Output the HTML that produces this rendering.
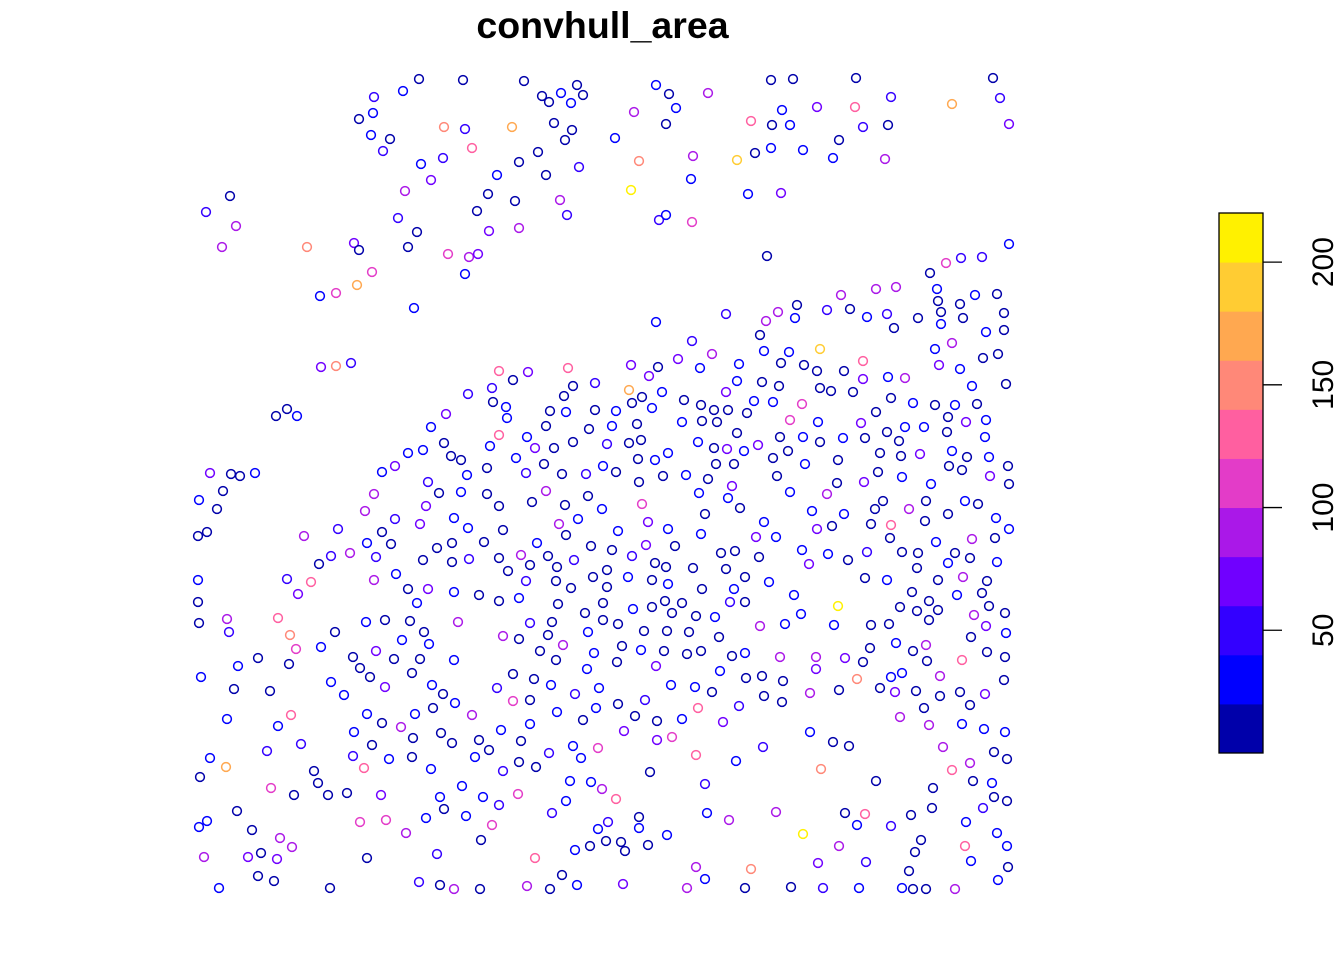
<!DOCTYPE html>
<html><head><meta charset="utf-8"><title>convhull_area</title>
<style>html,body{margin:0;padding:0;background:#fff}svg{display:block}</style></head>
<body>
<svg id="chart" width="1344" height="960" viewBox="0 0 1344 960" xmlns="http://www.w3.org/2000/svg">
<rect width="1344" height="960" fill="#fff"/>
<text x="602.5" y="38" text-anchor="middle" font-family="Liberation Sans, sans-serif" font-weight="bold" font-size="37.5">convhull_area</text>
<g id="points"></g>
<g id="legend"></g>
</svg>
<script>
const ptX = [419,463,524,403,374,373,359,371,390,383,444,465,512,472,542,549,561,577,583,571,554,572,565,538,519,546,579,421,443,431,497,405,488,515,477,560,567,398,417,489,519,408,230,206,236,222,307,354,359,448,469,478,372,357,336,320,465,414,
656,669,708,634,676,666,615,639,693,737,691,631,659,666,692,748,781,771,793,856,751,782,772,790,817,855,891,863,888,839,755,771,803,833,885,952,993,1000,1009,767,1009,946,961,982,930,937,938,941,941,960,963,975,997,1004,986,1004,841,876,896,797,778,766,795,827,850,867,887,894,918,760,726,656,692,
321,336,351,276,287,297,210,231,240,255,223,199,217,198,207,304,338,198,198,287,298,311,319,331,350,367,376,382,391,374,396,395,365,374,382,395,408,423,431,446,444,451,461,467,428,439,461,426,420,454,468,408,428,417,423,437,452,452,469,454,479,499,519,484,503,499,508,521,530,526,499,513,528,568,492,468,493,506,507,499,490,487,487,499,516,527,535,526,544,546,550,566,564,573,595,595,589,573,554,562,586,603,607,546,532,565,588,559,578,602,566,537,548,557,574,591,556,571,593,558,585,603,
631,649,658,678,712,700,629,642,632,662,652,616,612,637,629,641,638,655,668,616,639,663,686,684,701,714,728,682,702,717,726,737,739,764,789,781,804,817,820,844,863,863,762,779,820,831,853,754,773,747,802,790,818,861,876,888,905,891,913,935,952,939,960,983,998,972,1006,935,955,977,948,966,986,947,985,905,924,887,899,865,843,820,803,780,737,698,714,727,744,758,788,773,716,734,805,838,880,901,920,952,967,989,949,962,1008,1009,990,931,902,878,864,837,827,790,777,732,728,740,708,699,705,642,648,668,618,646,675,612,632,655,666,607,628,652,668,607,633,652,665,672,682,693,701,721,735,726,702,734,745,730,745,696,715,764,756,776,759,769,794,801,812,844,817,832,802,828,848,809,867,838,865,887,883,875,871,891,890,909,926,925,948,965,978,996,1009,995,972,936,902,918,955,970,948,997,917,938,963,987,912,929,957,982,989,900,917,938,1005,974,
199,227,229,278,290,296,258,238,289,201,234,270,227,278,291,301,267,210,226,200,271,294,237,207,199,252,280,292,204,248,261,277,258,274,219,335,321,331,344,366,385,410,424,402,429,376,353,360,370,394,420,412,454,458,385,432,443,455,433,415,472,367,382,401,354,372,413,441,452,353,389,412,364,431,314,318,328,347,381,440,444,426,466,462,360,386,406,367,330,419,440,454,480,527,550,562,577,535,481,437,492,499,483,518,552,566,570,591,602,598,608,590,606,575,503,519,536,475,479,489,501,521,530,549,573,581,598,557,583,596,513,530,497,551,575,599,513,534,587,594,540,556,563,503,519,548,530,552,588,603,
618,644,667,689,719,622,641,664,687,701,617,656,732,745,720,760,785,834,871,889,929,986,1006,971,896,913,926,870,780,816,816,845,863,927,962,987,1005,746,762,783,857,891,902,940,1004,671,695,712,764,782,810,839,880,895,916,940,960,985,970,924,618,645,698,739,635,657,682,723,900,929,962,984,1005,624,657,672,810,833,849,763,696,736,650,821,943,970,952,994,1007,973,992,933,876,705,616,994,1007,932,983,966,911,891,865,845,857,776,729,707,639,639,667,621,625,648,803,839,921,915,965,997,1007,971,1008,998,909,866,818,751,696,705,623,687,745,791,823,859,902,913,926,955];
const ptY = [79,80,81,91,97,113,119,135,139,151,127,129,127,148,96,102,93,85,95,103,123,130,140,152,162,175,167,164,158,180,175,191,194,201,211,200,215,218,232,231,228,247,196,212,226,247,247,243,250,254,257,254,272,285,293,296,274,308,
85,94,93,112,108,124,138,161,156,160,179,190,220,215,222,194,193,80,79,78,121,110,125,125,107,107,97,127,125,140,153,148,150,158,159,104,78,98,124,256,244,263,258,257,273,289,301,312,324,304,318,295,294,313,332,330,295,289,287,305,312,321,318,310,309,317,314,328,318,335,314,322,341,
367,366,363,416,409,416,473,474,476,473,491,500,509,536,532,536,529,580,602,579,594,582,564,556,553,543,557,532,544,580,574,519,511,494,472,466,453,450,427,414,443,456,460,475,482,493,492,506,524,518,528,589,589,603,560,548,543,562,559,592,595,601,598,542,530,558,571,555,565,581,371,380,372,368,388,394,402,407,418,435,446,468,494,506,458,437,448,473,464,426,411,412,396,386,383,410,429,442,448,474,474,466,444,491,502,505,496,524,519,509,535,543,556,567,560,546,581,588,577,604,613,603,
365,376,367,359,354,368,390,397,403,392,408,411,426,424,443,440,459,460,453,472,482,476,475,400,405,410,410,422,421,422,392,381,364,351,352,363,365,371,349,371,361,379,382,386,388,391,392,401,402,413,404,420,422,423,412,377,378,398,403,349,343,365,369,358,354,386,384,405,405,404,417,422,420,432,437,427,427,432,441,438,438,442,437,437,433,442,448,449,451,445,451,458,464,464,464,460,453,456,454,451,457,457,466,470,466,484,476,484,477,472,482,483,494,492,476,486,498,508,479,493,514,504,522,529,531,545,546,550,556,563,567,570,577,580,584,587,609,607,601,613,603,568,534,553,551,569,589,589,577,602,602,616,617,522,537,537,557,582,595,614,511,514,529,526,550,554,560,564,552,606,578,580,501,509,524,525,538,509,501,521,514,501,504,518,529,538,539,542,552,553,553,558,563,562,568,580,577,581,592,601,595,593,606,607,611,610,613,615,
623,619,632,618,635,649,658,666,664,677,689,691,719,726,715,744,751,758,767,777,788,795,811,821,827,830,838,847,857,857,853,859,876,881,888,632,647,682,695,622,620,621,632,640,644,651,657,668,677,659,659,673,660,622,687,685,694,703,708,714,715,714,723,727,732,745,738,733,743,756,759,757,768,769,771,783,795,793,795,797,809,818,816,786,822,820,833,858,888,882,885,889,889,886,889,875,885,858,840,854,825,805,797,794,813,801,781,782,789,829,822,846,841,850,771,762,767,757,740,750,730,741,724,753,746,758,748,712,720,708,701,700,688,685,694,688,674,679,669,653,651,660,645,636,639,635,623,622,632,620,
624,631,631,632,637,646,650,651,654,651,662,666,656,653,671,626,624,625,625,624,620,626,633,637,643,651,645,648,657,657,669,658,662,661,660,652,657,678,676,681,679,677,673,676,680,685,687,692,696,702,693,690,688,692,691,696,692,694,705,708,704,700,708,706,716,721,719,722,717,725,724,729,732,731,740,737,732,742,746,747,755,761,772,769,747,763,770,752,759,781,783,788,781,784,799,797,801,808,808,822,815,826,814,813,825,812,820,813,817,828,835,842,851,845,834,846,840,852,846,833,846,861,867,880,871,862,863,869,867,879,884,888,888,887,888,888,888,889,889,889];
const ptArea = [12,12,12,30,50,30,12,30,12,50,150,50,170,130,12,12,30,12,12,30,12,12,12,12,12,12,50,30,50,70,30,90,12,12,12,90,50,50,12,70,90,12,12,50,90,90,150,70,12,110,90,70,110,170,110,30,30,30,
30,12,90,90,30,12,30,150,90,190,30,210,50,30,110,30,70,12,12,12,130,30,12,30,70,130,50,50,12,12,12,30,30,30,90,170,12,50,70,12,30,110,50,50,12,30,12,12,30,12,12,30,12,12,30,12,90,90,90,12,90,90,30,50,12,30,50,12,12,12,50,30,50,
70,150,50,12,12,30,70,12,12,30,12,30,12,12,12,90,50,30,12,50,70,130,12,50,90,30,50,12,12,90,30,50,90,90,30,70,30,30,30,70,12,12,12,30,50,12,30,70,70,30,30,12,70,30,12,12,12,12,50,30,12,12,30,12,12,12,12,90,12,50,130,12,70,130,50,50,12,30,30,130,30,12,12,12,30,30,70,50,12,12,12,30,12,12,50,12,12,12,12,12,50,30,50,90,12,12,12,90,30,30,12,30,12,12,50,12,12,12,12,12,12,12,
70,70,12,70,90,30,170,12,12,30,30,30,30,12,12,12,12,30,30,12,12,12,30,12,12,12,12,30,12,12,70,30,30,30,30,12,12,12,190,12,130,70,12,12,12,12,12,30,30,12,110,110,30,70,12,30,90,12,30,30,90,70,30,12,12,30,12,12,30,12,12,70,30,12,30,30,30,12,12,12,30,12,30,12,12,30,12,70,30,70,12,12,12,12,30,12,12,12,70,30,12,30,12,12,12,12,70,30,30,12,70,12,90,30,12,70,30,12,12,30,12,110,70,30,30,70,12,12,50,12,12,12,30,12,30,12,30,12,12,12,12,12,30,12,12,12,12,30,12,50,12,12,30,30,70,30,12,30,30,30,30,30,70,12,30,30,12,70,50,210,12,30,12,12,12,130,12,90,12,12,12,30,12,30,30,12,90,30,12,12,12,12,30,30,12,12,90,12,12,12,30,12,12,12,12,12,12,90,
12,90,50,130,150,110,12,30,12,30,12,12,30,30,130,50,50,30,170,12,110,12,12,30,30,12,90,90,90,70,12,70,12,12,30,12,30,30,30,30,12,12,12,30,30,70,12,12,12,12,12,12,30,90,70,30,12,30,12,30,90,30,12,90,30,12,12,12,12,50,30,12,130,30,12,12,12,12,70,30,12,30,30,30,110,110,90,12,12,50,12,90,12,90,12,12,30,130,12,50,110,50,30,110,50,30,30,30,90,30,50,12,12,30,50,12,12,30,12,12,30,12,30,50,30,30,110,30,12,30,110,12,50,30,50,30,12,12,30,30,12,12,90,90,12,12,50,12,30,12,
12,12,12,12,12,12,30,12,12,12,12,70,12,30,30,90,30,30,12,12,12,70,30,12,30,12,90,12,90,90,70,70,12,12,130,12,12,12,12,12,150,30,30,90,12,30,30,12,12,12,90,12,12,70,12,12,12,70,12,12,12,50,130,50,12,12,30,70,90,90,30,30,30,70,70,110,30,12,12,50,130,30,12,150,90,90,130,12,12,12,30,12,12,50,130,12,12,12,50,30,12,50,130,12,30,90,90,30,12,30,30,12,12,12,210,90,12,12,130,30,30,30,12,30,12,50,70,150,90,30,70,90,12,12,50,30,30,12,12,90];
const legendTicks = [50,100,150,200];
const legendBreaks = [0,20,40,60,80,100,120,140,160,180,200,220];
const legendColors = ["#0000AA","#0000FF","#3300FF","#7000FF","#AA18E8","#E33CC8","#FF5FA0","#FF8878","#FFA850","#FFCC33","#FFF100"];

const NS = "http://www.w3.org/2000/svg";
const xScale = v => 195 + (v - 195) / (1012 - 195) * (1012 - 195);
const yScale = v => 78 + (v - 78) / (889 - 78) * (889 - 78);
const legTop = 213, legBot = 753, legMax = 220;
const legScale = v => legBot - v / legMax * (legBot - legTop);
function colorFor(v){
  let i = Math.floor(v / 20);
  if (i < 0) i = 0;
  if (i > legendColors.length - 1) i = legendColors.length - 1;
  return legendColors[i];
}
const pg = document.getElementById('points');
for (let i = 0; i < ptX.length; i++) {
  const c = document.createElementNS(NS, 'circle');
  c.setAttribute('cx', xScale(ptX[i]));
  c.setAttribute('cy', yScale(ptY[i]));
  c.setAttribute('r', 4.4);
  c.setAttribute('fill', 'none');
  c.setAttribute('stroke', colorFor(ptArea[i]));
  c.setAttribute('stroke-width', 1.5);
  
  
  pg.appendChild(c);
}
const lg = document.getElementById('legend');
for (let i = 0; i < legendColors.length; i++) {
  const r = document.createElementNS(NS, 'rect');
  const y1 = legScale(legendBreaks[i + 1]), y0 = legScale(legendBreaks[i]);
  r.setAttribute('x', 1219);
  r.setAttribute('y', y1);
  r.setAttribute('width', 44);
  r.setAttribute('height', y0 - y1 + 0.5);
  r.setAttribute('fill', legendColors[i]);
  
  
  lg.appendChild(r);
}
const border = document.createElementNS(NS, 'rect');
border.setAttribute('x', 1219); border.setAttribute('y', legTop);
border.setAttribute('width', 44); border.setAttribute('height', legBot - legTop);
border.setAttribute('fill', 'none'); border.setAttribute('stroke', '#000'); border.setAttribute('stroke-width', 1.3);


lg.appendChild(border);
legendTicks.forEach(t => {
  const y = legScale(t);
  const l = document.createElementNS(NS, 'line');
  l.setAttribute('x1', 1263); l.setAttribute('x2', 1282);
  l.setAttribute('y1', y); l.setAttribute('y2', y);
  l.setAttribute('stroke', '#000'); l.setAttribute('stroke-width', 1.3);
  
  
  lg.appendChild(l);
  const tx = document.createElementNS(NS, 'text');
  tx.setAttribute('transform', 'translate(1333,' + y + ') rotate(-90)');
  tx.setAttribute('text-anchor', 'middle');
  tx.setAttribute('font-family', 'Liberation Sans, sans-serif');
  tx.setAttribute('font-size', '30');
  
  
  tx.textContent = String(t);
  lg.appendChild(tx);
});
</script>
</body></html>
